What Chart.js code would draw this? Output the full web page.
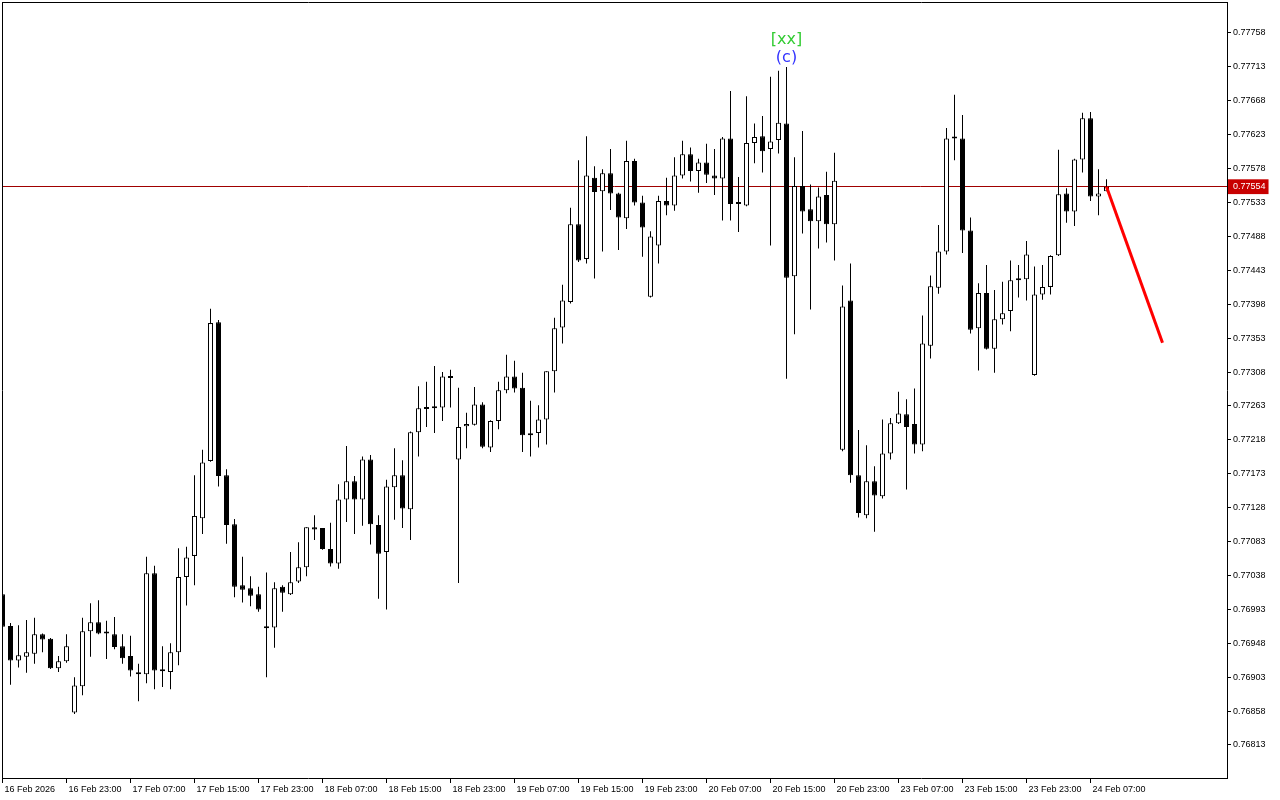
<!DOCTYPE html>
<html>
<head>
<meta charset="utf-8">
<script src="https://cdn.jsdelivr.net/npm/chart.js@4.4.1/dist/chart.umd.min.js"></script>
<style>
html,body{margin:0;padding:0;background:#ffffff;}
#wrap{width:1280px;height:800px;position:relative;}
</style>
</head>
<body>
<div id="wrap"><canvas id="c" width="1280" height="800"></canvas></div>
<script>
// ---- DATA ----
const timeLabels = ["16 Feb 2026","16 Feb 23:00","17 Feb 07:00","17 Feb 15:00","17 Feb 23:00","18 Feb 07:00","18 Feb 15:00","18 Feb 23:00","19 Feb 07:00","19 Feb 15:00","19 Feb 23:00","20 Feb 07:00","20 Feb 15:00","20 Feb 23:00","23 Feb 07:00","23 Feb 15:00","23 Feb 23:00","24 Feb 07:00"];
const timeLabelBars = [0,8,16,24,32,40,48,56,64,72,80,88,96,104,112,120,128,136];

const open = [0.77013,0.76971,0.76925,0.76930,0.76934,0.76960,0.76954,0.76915,0.76924,0.76856,
0.76891,0.76964,0.76976,0.76962,0.76960,0.76944,0.76931,0.76908,0.76907,0.77041,
0.76912,0.76910,0.76936,0.77036,0.77064,0.77114,0.77190,0.77374,0.77171,0.77106,
0.77025,0.77021,0.77013,0.76969,0.76969,0.77023,0.77013,0.77030,0.77049,0.77102,
0.77101,0.77073,0.77054,0.77139,0.77163,0.77139,0.77192,0.77105,0.77069,0.77155,
0.77171,0.77126,0.77228,0.77259,0.77261,0.77261,0.77301,0.77192,0.77236,0.77238,
0.77265,0.77208,0.77243,0.77284,0.77302,0.77287,0.77225,0.77227,0.77245,0.77309,
0.77367,0.77401,0.77504,0.77458,0.77566,0.77548,0.77572,0.77545,0.77512,0.77588,
0.77533,0.77408,0.77476,0.77535,0.77529,0.77569,0.77597,0.77575,0.77586,0.77569,
0.77565,0.77618,0.77531,0.77529,0.77612,0.77621,0.77604,0.77616,0.77638,0.77435,
0.77555,0.77524,0.77508,0.77543,0.77504,0.77205,0.77403,0.77171,0.77118,0.77163,
0.77143,0.77200,0.77240,0.77252,0.77239,0.77212,0.77343,0.77420,0.77468,0.77618,
0.77618,0.77496,0.77366,0.77413,0.77339,0.77378,0.77389,0.77431,0.77431,0.77304,
0.77411,0.77421,0.77463,0.77545,0.77521,0.77590,0.77645,0.77541,0.77548];
const high = [0.77014,0.76975,0.76972,0.76979,0.76982,0.76961,0.76955,0.76931,0.76960,0.76903,
0.76982,0.77001,0.77005,0.76978,0.76983,0.76960,0.76958,0.76921,0.77063,0.77051,
0.76944,0.76948,0.77074,0.77076,0.77171,0.77205,0.77392,0.77377,0.77179,0.77113,
0.77063,0.77037,0.77023,0.77042,0.77029,0.77025,0.77069,0.77082,0.77102,0.77118,
0.77101,0.77108,0.77159,0.77210,0.77170,0.77196,0.77198,0.77118,0.77165,0.77207,
0.77191,0.77229,0.77289,0.77295,0.77316,0.77308,0.77311,0.77287,0.77254,0.77288,
0.77268,0.77244,0.77295,0.77331,0.77323,0.77307,0.77270,0.77264,0.77309,0.77380,
0.77424,0.77526,0.77589,0.77621,0.77581,0.77577,0.77604,0.77546,0.77615,0.77591,
0.77542,0.77495,0.77542,0.77566,0.77593,0.77615,0.77606,0.77591,0.77611,0.77604,
0.77620,0.77681,0.77567,0.77674,0.77638,0.77648,0.77700,0.77708,0.77713,0.77593,
0.77628,0.77557,0.77553,0.77574,0.77599,0.77423,0.77452,0.77231,0.77211,0.77183,
0.77245,0.77247,0.77282,0.77272,0.77286,0.77383,0.77436,0.77503,0.77632,0.77676,
0.77649,0.77513,0.77426,0.77450,0.77417,0.77428,0.77456,0.77450,0.77482,0.77448,
0.77450,0.77463,0.77603,0.77552,0.77591,0.77652,0.77653,0.77577,0.77564];
const low = [0.76969,0.76893,0.76916,0.76909,0.76921,0.76936,0.76914,0.76910,0.76922,0.76854,
0.76879,0.76930,0.76960,0.76927,0.76940,0.76921,0.76904,0.76871,0.76895,0.76887,
0.76890,0.76887,0.76919,0.76998,0.77025,0.77093,0.77189,0.77156,0.77080,0.77009,
0.77002,0.76997,0.76990,0.76903,0.76942,0.76990,0.77012,0.77028,0.77037,0.77085,
0.77072,0.77050,0.77047,0.77109,0.77093,0.77104,0.77079,0.77007,0.76993,0.77112,
0.77101,0.77085,0.77196,0.77235,0.77227,0.77243,0.77261,0.77028,0.77207,0.77237,
0.77207,0.77202,0.77232,0.77280,0.77281,0.77202,0.77196,0.77208,0.77212,0.77281,
0.77346,0.77399,0.77454,0.77452,0.77432,0.77468,0.77523,0.77470,0.77498,0.77529,
0.77461,0.77407,0.77452,0.77516,0.77522,0.77565,0.77561,0.77546,0.77559,0.77543,
0.77509,0.77509,0.77494,0.77528,0.77585,0.77573,0.77476,0.77598,0.77299,0.77358,
0.77492,0.77391,0.77472,0.77480,0.77456,0.77203,0.77161,0.77115,0.77114,0.77096,
0.77140,0.77192,0.77239,0.77152,0.77200,0.77203,0.77326,0.77412,0.77464,0.77589,
0.77466,0.77359,0.77310,0.77338,0.77307,0.77371,0.77362,0.77407,0.77403,0.77303,
0.77404,0.77411,0.77462,0.77506,0.77502,0.77573,0.77535,0.77516,0.77548];
const close = [0.76970,0.76925,0.76932,0.76936,0.76960,0.76953,0.76915,0.76924,0.76944,0.76892,
0.76964,0.76976,0.76961,0.76961,0.76943,0.76928,0.76912,0.76907,0.77041,0.76912,
0.76911,0.76936,0.77036,0.77062,0.77117,0.77188,0.77373,0.77170,0.77105,0.77023,
0.77019,0.77011,0.76993,0.76968,0.77021,0.77015,0.77029,0.77049,0.77102,0.77099,
0.77073,0.77054,0.77139,0.77163,0.77139,0.77192,0.77106,0.77067,0.77156,0.77171,
0.77127,0.77228,0.77260,0.77260,0.77260,0.77302,0.77300,0.77235,0.77239,0.77265,
0.77209,0.77243,0.77284,0.77302,0.77286,0.77224,0.77224,0.77245,0.77309,0.77366,
0.77403,0.77504,0.77456,0.77569,0.77547,0.77572,0.77545,0.77513,0.77588,0.77533,
0.77500,0.77488,0.77535,0.77529,0.77569,0.77597,0.77575,0.77586,0.77570,0.77565,
0.77618,0.77531,0.77532,0.77612,0.77620,0.77601,0.77614,0.77639,0.77433,0.77555,
0.77521,0.77508,0.77541,0.77504,0.77562,0.77395,0.77171,0.77121,0.77163,0.77144,
0.77200,0.77240,0.77253,0.77235,0.77212,0.77346,0.77422,0.77468,0.77618,0.77619,
0.77496,0.77364,0.77413,0.77339,0.77378,0.77386,0.77430,0.77430,0.77464,0.77411,
0.77421,0.77462,0.77544,0.77521,0.77590,0.77645,0.77541,0.77545,0.77554];

const priceTicks = [0.77758,0.77713,0.77668,0.77623,0.77578,0.77533,0.77488,0.77443,0.77398,0.77353,0.77308,0.77263,0.77218,0.77173,0.77128,0.77083,0.77038,0.76993,0.76948,0.76903,0.76858,0.76813];
const lastPrice = 0.77554;
const forecastBars = [138,145];
const forecastPrices = [0.77554,0.77347];
const waveBars = [98,98];
const waveTexts = ["[xx]","(c)"];

// ---- view window ----
const X_MIN = -0.0625, X_MAX = 153.0625;
const Y_MIN = 0.767692, Y_MAX = 0.7779914;

const wickData = open.map((o,i)=>({x:i, y:[low[i], high[i]]}));
const bodyData = open.map((o,i)=>({x:i, y:[Math.min(o,close[i]), Math.max(o,close[i])]}));
const bodyFill = open.map((o,i)=> close[i] >= o ? '#ffffff' : '#000000');
const forecastData = forecastBars.map((b,k)=>({x:b, y:forecastPrices[k]}));
const yTickValues = priceTicks.concat([lastPrice]);

const waveColors = ['#33CC33','#3333FF'];
const waveOffsets = [27,9];
const wavePlugin = {
  id:'waveLabels',
  afterDatasetsDraw(chart){
    const {ctx} = chart; const xs = chart.scales.x, ys = chart.scales.y;
    ctx.save();
    ctx.textAlign='center'; ctx.textBaseline='middle';
    ctx.font='16px "DejaVu Sans"';
    waveTexts.forEach((t,k)=>{
      const b = waveBars[k];
      ctx.fillStyle = waveColors[k];
      ctx.fillText(t, xs.getPixelForValue(b), ys.getPixelForValue(high[b]) - waveOffsets[k]);
    });
    ctx.restore();
  }
};

const isLast = c => c && c.tick && c.tick.value === lastPrice;
const axisFont = {family:'Liberation Sans', size:9};
const noPad = s => { s.paddingTop = 0; s.paddingBottom = 0; s.paddingLeft = 0; s.paddingRight = 0; };

new Chart(document.getElementById('c'), {
  type:'bar',
  data:{datasets:[
    {type:'line', data:forecastData, borderColor:'#ff0000', borderWidth:3, pointRadius:0, tension:0, order:0, xAxisID:'x', yAxisID:'y'},
    {type:'bar', data:bodyData, barThickness:5, backgroundColor:bodyFill, borderColor:'#000000', borderWidth:1, borderSkipped:false, minBarLength:2, inflateAmount:0, grouped:false, order:1, xAxisID:'x', yAxisID:'y'},
    {type:'bar', data:wickData, barThickness:1, backgroundColor:'#000000', borderWidth:0, inflateAmount:0, grouped:false, order:2, xAxisID:'x', yAxisID:'y'}
  ]},
  options:{
    responsive:false, animation:false,
    layout:{padding:{left:2, top:2, right:0, bottom:0}},
    plugins:{legend:{display:false}, tooltip:{enabled:false}},
    scales:{
      x:{type:'linear', position:'bottom', min:X_MIN, max:X_MAX, offset:false, bounds:'data',
        afterBuildTicks:s=>{ s.ticks = timeLabelBars.map(v=>({value:v})); },
        afterFit:s=>{ s.height = 22; noPad(s); },
        grid:{display:true, drawOnChartArea:false, drawTicks:true, tickLength:5, color:'#000000', offset:false},
        border:{display:true, color:'#000000', width:1},
        ticks:{autoSkip:false, maxRotation:0, minRotation:0, align:'start', labelOffset:2, padding:1, color:'#000000', font:axisFont,
          callback:(v,i)=> timeLabels[i]}
      },
      xt:{type:'linear', axis:'x', position:'top', min:X_MIN, max:X_MAX, display:true,
        grid:{display:false, drawTicks:false}, ticks:{display:false},
        border:{display:true, color:'#000000'}, afterFit:s=>{ s.height = 0; noPad(s); }},
      yl:{type:'linear', axis:'y', position:'left', min:Y_MIN, max:Y_MAX, display:true,
        grid:{display:false, drawTicks:false}, ticks:{display:false},
        border:{display:true, color:'#000000'}, afterFit:s=>{ s.width = 0; noPad(s); }},
      y:{type:'linear', position:'right', min:Y_MIN, max:Y_MAX, bounds:'data',
        afterBuildTicks:s=>{ s.ticks = yTickValues.map(v=>({value:v})); },
        afterFit:s=>{ s.width = 53; noPad(s); },
        grid:{display:true, drawOnChartArea:true, drawTicks:true, tickLength:4, lineWidth:1,
          color:c=> isLast(c) ? '#A00000' : 'rgba(0,0,0,0)',
          tickColor:c=> isLast(c) ? 'rgba(0,0,0,0)' : '#000000'},
        border:{display:true, color:'#000000'},
        ticks:{autoSkip:false, padding:2, font:axisFont,
          color:c=> isLast(c) ? '#ffffff' : '#000000',
          showLabelBackdrop:c=> isLast(c),
          backdropColor:'#C80000',
          backdropPadding:{top:2, bottom:2, left:5, right:3},
          callback:v=> Number(v).toFixed(5)}
      }
    }
  },
  plugins:[wavePlugin]
});
</script>
</body>
</html>
